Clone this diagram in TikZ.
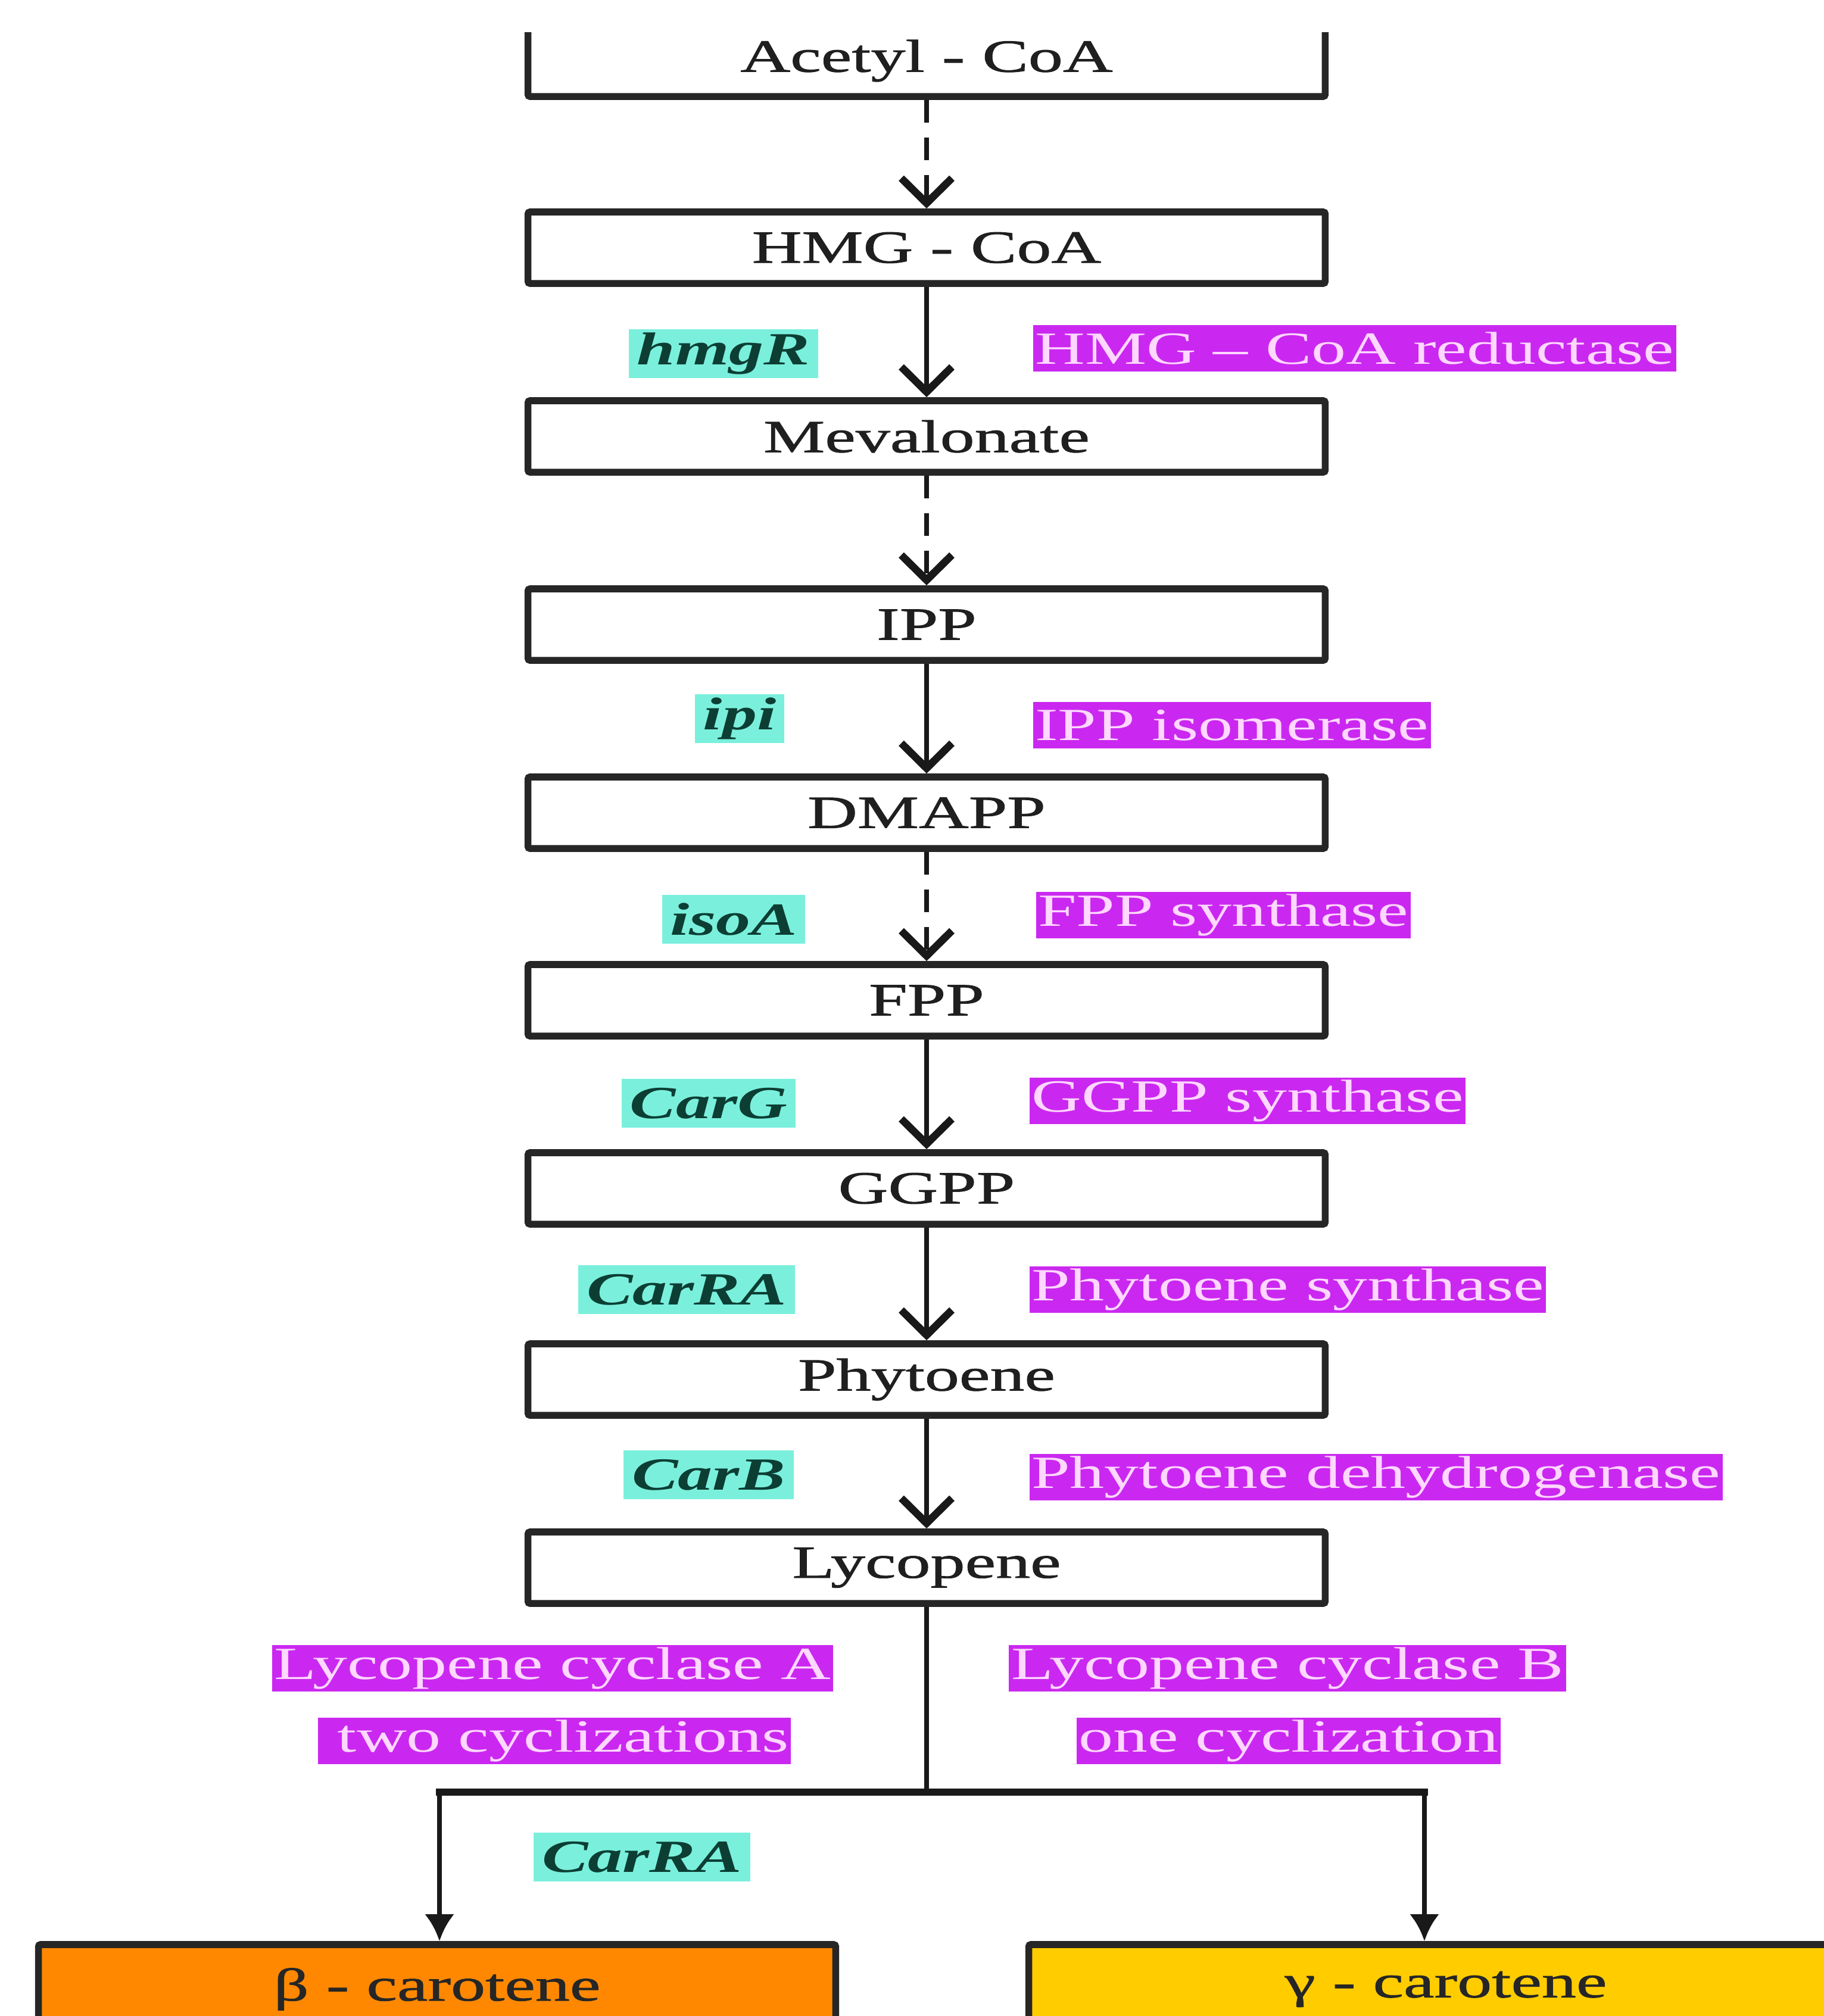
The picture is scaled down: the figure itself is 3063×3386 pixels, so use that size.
\documentclass[tikz,border=0pt]{standalone}
\usepackage{fontspec}
\setmainfont{Liberation Serif}[FakeStretch=1.5]
\newfontfamily\boxfont{Liberation Serif}[FakeStretch=1.5, FakeBold=1.2]
\usetikzlibrary{arrows.meta}
\definecolor{mag}{RGB}{202,40,240}
\definecolor{magtxt}{RGB}{255,215,255}
\definecolor{cyanbg}{RGB}{122,240,220}
\definecolor{cyantxt}{RGB}{12,62,52}
\definecolor{orangebox}{RGB}{255,136,0}
\definecolor{yellowbox}{RGB}{255,204,0}
\begin{document}
\begin{tikzpicture}[x=0.01cm,y=-0.01cm,
  txt/.style={font=\fontsize{22}{26}\selectfont},
  btxt/.style={font=\fontsize{22}{26}\boxfont},
  stepbox/.style={btxt, draw=black!85, line width=3.3pt, fill=white, minimum width=13.38cm, minimum height=1.2cm, inner sep=0pt, text=black!88, rounded corners=1pt},
  endbox/.style={btxt, draw=black!85, line width=3.3pt, minimum height=1.5cm, inner sep=0pt, text=black!85, rounded corners=1pt},
  arr/.style={line width=2.5pt, draw=black!90, -{Straight Barb[length=0.42cm, width=0.85cm, line width=3.6pt]}},
  dasharr/.style={arr, dash pattern=on 0.38cm off 0.25cm},
  branch/.style={line width=2.4pt, draw=black!90},
  brarr/.style={branch, -{Latex[length=0.45cm, width=0.5cm]}},
  enz/.style={txt, fill=mag, text=magtxt, inner xsep=1pt, inner ysep=0pt, minimum height=0.78cm},
  gene/.style={txt, fill=cyanbg, text=cyantxt, inner xsep=4pt, inner ysep=0pt, minimum height=0.82cm, font=\fontsize{22}{26}\selectfont\bfseries\itshape}
]
\clip (0,0) rectangle (3063,3386);
\fill[white] (0,0) rectangle (3063,3386);

% Acetyl-CoA box, cut at the top
\begin{scope}
\clip (0,54) rectangle (3063,400);
\node[stepbox] (acetyl) at (1556,102) {Acetyl - CoA};
\end{scope}

\node[stepbox] (hmg) at (1556,416) {HMG - CoA};
\node[stepbox] (mev) at (1556,733) {Mevalonate};
\node[stepbox] (ipp) at (1556,1049) {IPP};
\node[stepbox] (dmapp) at (1556,1365) {DMAPP};
\node[stepbox] (fpp) at (1556,1680) {FPP};
\node[stepbox] (ggpp) at (1556,1996) {GGPP};
\node[stepbox] (phyt) at (1556,2317) {Phytoene};
\node[stepbox] (lyc) at (1556,2633) {Lycopene};

\node[endbox, fill=orangebox, minimum width=13.38cm] (beta) at (734,3341) {β - carotene};
\node[endbox, fill=yellowbox, minimum width=14.0cm] (gamma) at (2428,3341) {γ - carotene};

% connectors
\draw[dasharr] (acetyl.south) -- (hmg.north);
\draw[arr] (hmg.south) -- (mev.north);
\draw[dasharr] (mev.south) -- (ipp.north);
\draw[arr] (ipp.south) -- (dmapp.north);
\draw[dasharr] (dmapp.south) -- (fpp.north);
\draw[arr] (fpp.south) -- (ggpp.north);
\draw[arr] (ggpp.south) -- (phyt.north);
\draw[arr] (phyt.south) -- (lyc.north);

\coordinate (jL) at (738,3010);
\coordinate (jR) at (2392,3010);
\draw[branch] (lyc.south) -- (lyc.south |- jL);
\draw[branch, line width=3.6pt, line cap=rect] (jL) -- (jR);
\draw[brarr] (jL) -- (jL |- beta.north);
\draw[brarr] (jR) -- (jR |- gamma.north);

% gene labels
\node[gene] (g1) at (1215,594) {hmgR};
\node[gene] (g2) at (1242,1207) {ipi};
\node[gene] (g3) at (1232,1544) {isoA};
\node[gene] (g4) at (1190,1853) {CarG};
\node[gene] (g5) at (1153,2166) {CarRA};
\node[gene] (g6) at (1190,2477) {CarB};
\node[gene] (g7) at (1078,3119) {CarRA};

% enzyme labels
\node[enz, anchor=west] (e1) at (1734,585) {HMG – CoA reductase};
\node[enz, anchor=west] (e2) at (1734,1218) {IPP isomerase};
\node[enz, anchor=west] (e3) at (1739,1537) {FPP synthase};
\node[enz, anchor=west] (e4) at (1728,1849) {GGPP synthase};
\node[enz, anchor=west] (e5) at (1728,2166) {Phytoene synthase};
\node[enz, anchor=west] (e6) at (1728,2481) {Phytoene dehydrogenase};
\node[enz] (e7) at (928,2802) {Lycopene cyclase A};
\node[enz] (e8) at (931,2924) {\ two cyclizations\ };
\node[enz] (e9) at (2162,2802) {Lycopene cyclase B};
\node[enz] (e10) at (2164,2924) {one cyclization};
\end{tikzpicture}
\end{document}
